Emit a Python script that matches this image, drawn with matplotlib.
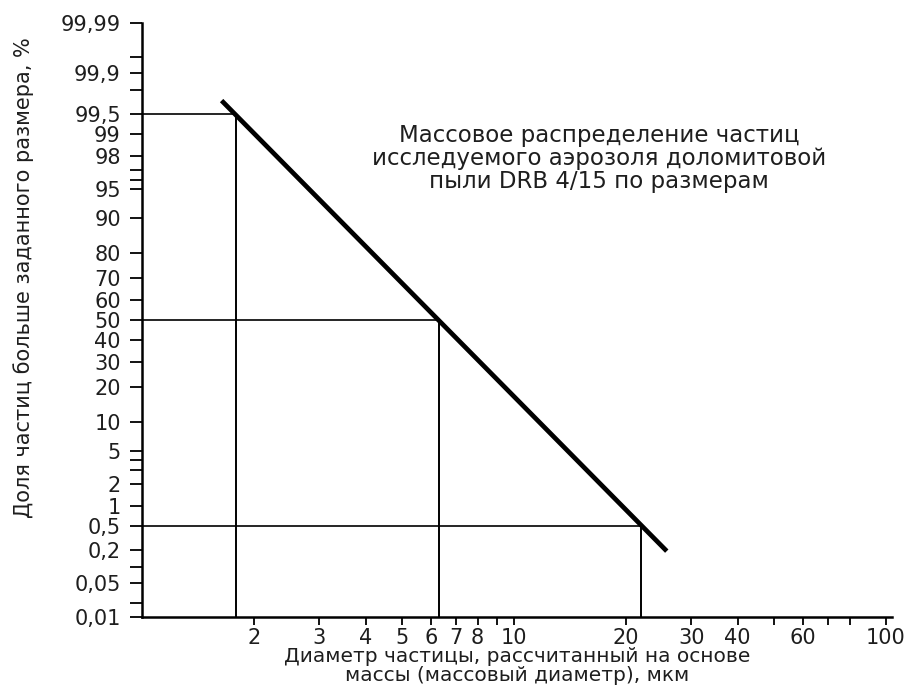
import numpy as np
import matplotlib
matplotlib.use('Agg')
import matplotlib.pyplot as plt
from statistics import NormalDist

# --- data ---
# probability scale (% of particles larger than given size)
y_major = [0.01, 0.05, 0.2, 0.5, 1, 2, 5, 10, 20, 30, 40, 50, 60, 70, 80, 90, 95, 98, 99, 99.5, 99.9, 99.99]
y_major_labels = ['0,01', '0,05', '0,2', '0,5', '1', '2', '5', '10', '20', '30', '40', '50',
                  '60', '70', '80', '90', '95', '98', '99', '99,5', '99,9', '99,99']
y_minor = [0.02, 0.1, 3, 4, 96, 97, 99.8, 99.95]

x_major = [2, 3, 4, 5, 6, 7, 8, 10, 20, 30, 40, 60, 100]
x_major_labels = ['2', '3', '4', '5', '6', '7', '8', '10', '20', '30', '40', '60', '100']
x_minor = [9, 50, 70, 80]

# distribution line (diameter, mkm  /  fraction, %)
line_d = [1.64, 25.8]
line_p = [99.7, 0.19]

# marked points: d(99.5%), d50, d(0.5%)
mark_d = [1.79, 6.3, 22.0]
mark_p = [99.5, 50, 0.5]

title_text = ('Массовое распределение частиц\n'
              'исследуемого аэрозоля доломитовой\n'
              'пыли DRB 4/15 по размерам')
x_label = 'Диаметр частицы, рассчитанный на основе\nмассы (массовый диаметр), мкм'
y_label = 'Доля частиц больше заданного размера, %'

_nd = NormalDist()


def to_z(p):
    p = np.clip(np.asarray(p, dtype=float), 1e-7, 100 - 1e-7)
    f = np.vectorize(lambda v: np.nan if np.isnan(v) else _nd.inv_cdf(v / 100.0), otypes=[float])
    return f(p)


def from_z(z):
    z = np.asarray(z, dtype=float)
    f = np.vectorize(lambda v: np.nan if np.isnan(v) else _nd.cdf(v) * 100.0, otypes=[float])
    return f(z)


plt.rcParams['font.family'] = ['DejaVu Sans']
txt_col = '#1e1e1e'

fig = plt.figure(figsize=(9.17, 6.89), dpi=100)
ax = fig.add_axes([0.1545, 0.1045, 0.8182, 0.8621])

ax.set_xscale('log')
ax.set_yscale('function', functions=(to_z, from_z))
xmin, xmax = 1, 104
ymin, ymax = 0.01, 99.99
ax.set_xlim(xmin, xmax)
ax.set_ylim(ymin, ymax)

# guide lines
for d, p in zip(mark_d, mark_p):
    ax.plot([xmin, d], [p, p], color='black', lw=1.2, solid_capstyle='butt')
    ax.plot([d, d], [ymin, p], color='black', lw=1.4, solid_capstyle='butt')

ax.plot(line_d, line_p, color='black', lw=3.4, solid_capstyle='butt')

ax.set_yticks(y_major)
ax.set_yticklabels(y_major_labels)
ax.set_yticks(y_minor, minor=True)
ax.set_xticks(x_major)
ax.set_xticklabels(x_major_labels)
ax.set_xticks(x_minor, minor=True)
ax.xaxis.set_minor_formatter(plt.NullFormatter())

ax.tick_params(axis='y', which='both', direction='out', length=9, width=1.3,
               pad=6, labelsize=15, labelcolor=txt_col)
ax.tick_params(axis='x', which='both', direction='out', length=6, width=1.3,
               pad=2, labelsize=15, labelcolor=txt_col)

for s in ['top', 'right']:
    ax.spines[s].set_visible(False)
for s in ['left', 'bottom']:
    ax.spines[s].set_linewidth(1.8)

ax.set_xlabel(x_label, fontsize=14.5, color=txt_col, labelpad=-1, linespacing=1.0)
ax.set_ylabel(y_label, fontsize=15, color=txt_col)
ax.yaxis.set_label_coords(-0.143, 0.572)

ax.text(0.6095, 0.7727, title_text, transform=ax.transAxes, ha='center', va='center',
        fontsize=16.5, color=txt_col, linespacing=1.0)

fig.savefig('out.png', dpi=100)
